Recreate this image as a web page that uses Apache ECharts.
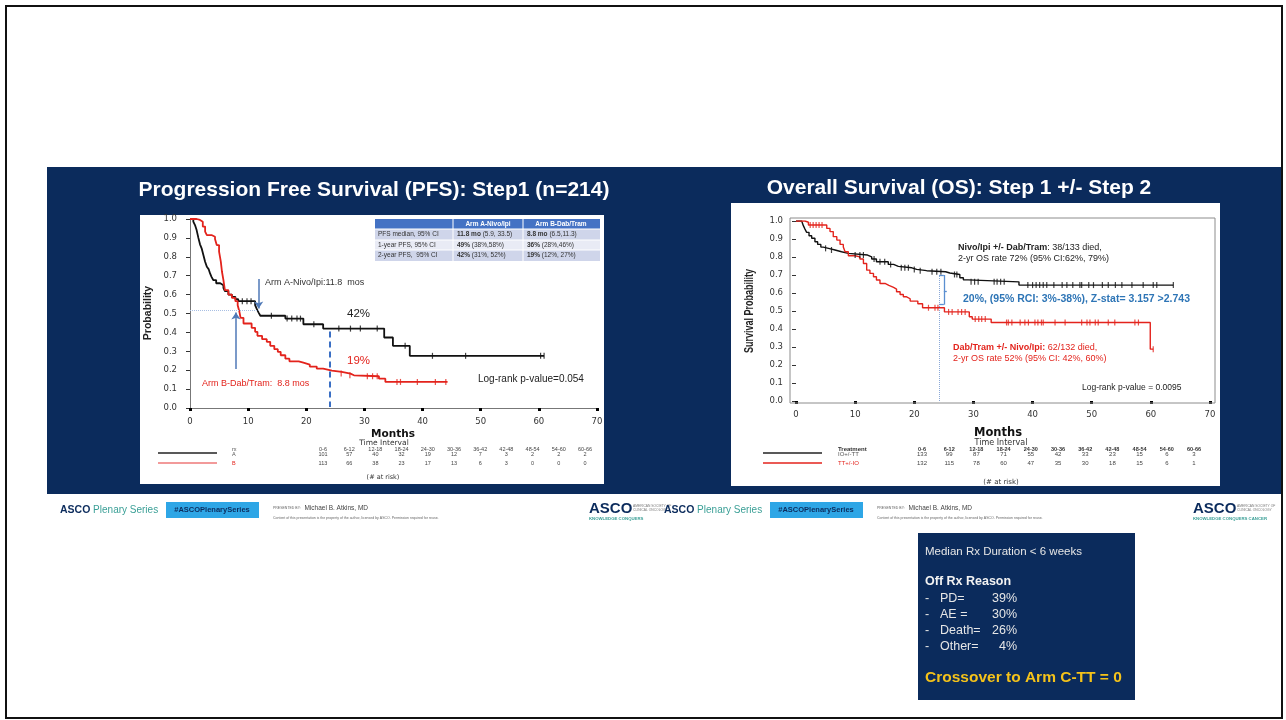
<!DOCTYPE html>
<html><head><meta charset="utf-8">
<script src="https://cdn.jsdelivr.net/npm/echarts@6/dist/echarts.min.js"></script>
<style>html,body{margin:0;padding:0;background:#fff}#c{width:1286px;height:720px}</style>
</head><body><div id="c"></div>
<script>
// ---------------- DATA ----------------
// PFS (left): [month, survival] after each event; last point = last follow-up
const pfsA = [[0,1],[0.57,0.986],[0.86,0.968],[1.15,0.94],[1.44,0.90],[1.72,0.866],[2.0,0.845],[2.3,0.81],[2.6,0.774],[2.9,0.747],[3.2,0.735],[3.45,0.712],[3.7,0.694],[4.0,0.677],[4.5,0.66],[5.2,0.65],[5.75,0.636],[6.0,0.618],[6.6,0.60],[7.2,0.588],[7.8,0.576],[8.3,0.565],[11.2,0.544],[11.5,0.523],[11.8,0.505],[12.1,0.488],[16.4,0.473],[19.5,0.443],[22.9,0.42],[33.4,0.373],[34.9,0.329],[37.8,0.276],[60.9,0.276]];
const pfsB = [[0,1],[1.15,0.995],[1.72,0.986],[2.2,0.96],[2.6,0.933],[2.9,0.915],[3.7,0.906],[4.3,0.894],[4.6,0.862],[5.0,0.827],[5.3,0.774],[5.5,0.721],[5.75,0.677],[6.0,0.624],[6.6,0.60],[7.2,0.583],[7.8,0.565],[8.2,0.544],[8.5,0.509],[8.7,0.477],[9.2,0.447],[10.6,0.424],[11.2,0.403],[11.6,0.382],[12.4,0.364],[13.2,0.35],[13.8,0.329],[14.5,0.311],[15.1,0.297],[15.6,0.279],[16.4,0.261],[17.1,0.247],[18.7,0.24],[19.5,0.23],[20.6,0.219],[21.8,0.208],[22.9,0.198],[24.4,0.191],[26.1,0.182],[27.6,0.173],[28.2,0.168],[32.5,0.155],[33.6,0.138],[44.3,0.138]];
const pfsACens = [[9.0,0.565],[9.8,0.565],[10.5,0.565],[14.0,0.488],[16.7,0.473],[17.5,0.473],[18.4,0.473],[19.0,0.473],[21.3,0.443],[25.6,0.42],[27.6,0.42],[29.3,0.42],[32.2,0.42],[37.0,0.329],[41.7,0.276],[47.4,0.276],[60.3,0.276],[60.9,0.276]];
const pfsBCens = [[26.0,0.182],[27.5,0.173],[30.5,0.168],[31.4,0.168],[32.2,0.168],[35.6,0.138],[36.2,0.138],[39.1,0.138],[42.2,0.138],[44.0,0.138]];

// OS (right)
const osIO = [[0,1],[0.96,0.993],[1.24,0.974],[1.52,0.955],[1.8,0.937],[2.2,0.918],[2.65,0.904],[3.2,0.885],[3.66,0.87],[4.2,0.855],[4.6,0.848],[5.5,0.839],[6.6,0.829],[7.7,0.82],[8.85,0.811],[12.1,0.801],[12.8,0.789],[13.6,0.774],[15.6,0.759],[16.5,0.748],[17.3,0.74],[19.6,0.731],[20.4,0.724],[22.1,0.718],[25.3,0.711],[26.0,0.703],[27.7,0.685],[28.3,0.673],[29.1,0.662],[37.7,0.644],[63.8,0.644]];
const osTT = [[0,1],[1.52,0.993],[2.1,0.978],[5.2,0.959],[5.75,0.941],[6.3,0.913],[6.9,0.894],[7.45,0.87],[8.0,0.855],[8.3,0.829],[8.85,0.807],[10.0,0.801],[10.8,0.789],[11.4,0.764],[11.95,0.727],[12.5,0.709],[13.1,0.69],[13.6,0.672],[14.2,0.653],[15.05,0.642],[15.7,0.631],[16.5,0.622],[17.0,0.607],[17.6,0.592],[18.15,0.579],[18.7,0.568],[19.3,0.555],[20.6,0.54],[21.4,0.518],[25.1,0.495],[29.3,0.468],[29.8,0.455],[33.0,0.436],[59.9,0.288],[60.4,0.288]];
const osIOCens = [[5.0,0.848],[6.0,0.839],[10.0,0.811],[10.8,0.811],[11.4,0.811],[13.2,0.789],[14.2,0.774],[15.0,0.774],[16.0,0.759],[17.8,0.74],[18.4,0.74],[19.0,0.74],[20.0,0.731],[21.0,0.724],[23.0,0.718],[23.8,0.718],[24.5,0.718],[26.8,0.703],[27.2,0.703],[29.6,0.662],[30.2,0.662],[30.8,0.662],[33.5,0.662],[34.0,0.662],[34.6,0.662],[35.2,0.662],[39.2,0.644],[40.0,0.644],[40.6,0.644],[41.2,0.644],[41.8,0.644],[42.4,0.644],[43.6,0.644],[45.0,0.644],[45.8,0.644],[46.8,0.644],[48.0,0.644],[48.3,0.644],[49.5,0.644],[50.3,0.644],[51.8,0.644],[52.8,0.644],[54.0,0.644],[55.1,0.644],[56.8,0.644],[58.7,0.644],[60.4,0.644],[61.0,0.644],[63.8,0.644]];
const osTTCens = [[2.4,0.978],[2.9,0.978],[3.4,0.978],[3.9,0.978],[4.4,0.978],[22.4,0.518],[23.5,0.518],[24.0,0.518],[25.8,0.495],[26.4,0.495],[27.4,0.495],[28.0,0.495],[28.6,0.495],[30.3,0.455],[30.9,0.455],[31.4,0.455],[32.0,0.455],[35.6,0.436],[35.9,0.436],[36.5,0.436],[37.9,0.436],[38.7,0.436],[39.3,0.436],[40.4,0.436],[40.9,0.436],[41.5,0.436],[41.8,0.436],[43.8,0.436],[45.5,0.436],[48.3,0.436],[49.2,0.436],[49.7,0.436],[50.6,0.436],[51.1,0.436],[52.8,0.436],[53.9,0.436],[57.3,0.436],[57.9,0.436],[60.4,0.288]];

// risk tables
const intervals = ['0-6','6-12','12-18','18-24','24-30','30-36','36-42','42-48','48-54','54-60','60-66'];
const riskPfsA = [101,57,40,32,19,12,7,3,2,2,2];
const riskPfsB = [113,66,38,23,17,13,6,3,0,0,0];
const riskOsIO = [133,99,87,71,55,42,33,23,15,6,3];
const riskOsTT = [132,115,78,60,47,35,30,18,15,6,1];

// inset table
const insetHeader = ['', 'Arm A-Nivo/Ipi', 'Arm B-Dab/Tram'];
const insetRows = [
  ['PFS median, 95% CI', '11.8 mo', ' (5.9, 33.5)', '8.8 mo', ' (6.5,11.3)'],
  ['1-year PFS, 95% CI', '49%', ' (38%,58%)', '36%', ' (28%,46%)'],
  ['2-year PFS,  95% CI', '42%', ' (31%, 52%)', '19%', ' (12%, 27%)']
];
const offRx = [['PD=', '39%'], ['AE =', '30%'], ['Death=', '26%'], ['Other=', '4%']];

// ---------------- STYLE / HELPERS ----------------
const F = "'Liberation Sans', Arial, sans-serif";
const NAVY = '#0b2b5c';
const RED = '#e3231c';
function txt(x, y, text, o) {
  o = o || {};
  const st = {
    text: text, x: 0, y: 0,
    fill: o.color || '#222',
    fontSize: o.size || 10, fontWeight: o.weight || 'normal', fontFamily: o.family || F,
    textAlign: o.align || 'left', textVerticalAlign: o.va || 'middle',
    align: o.align || 'left', verticalAlign: o.va || 'middle'
  };
  if (o.rich) st.rich = o.rich;
  const el = { type: 'text', x: x, y: y, rotation: o.rot || 0, z: 60, silent: true, style: st };
  if (o.sx) el.scaleX = o.sx;
  return el;
}
function rect(x, y, w, h, fill, z, stroke, lw) {
  return { type: 'rect', z: z == null ? -10 : z, silent: true, shape: { x: x, y: y, width: w, height: h },
    style: { fill: fill, stroke: stroke || null, lineWidth: lw || 0 } };
}
function line(x1, y1, x2, y2, color, w, z) {
  return { type: 'line', z: z == null ? 60 : z, silent: true, shape: { x1: x1, y1: y1, x2: x2, y2: y2 },
    style: { stroke: color, lineWidth: w } };
}
function boldRich(size, color) {
  return { b: { fontWeight: 'bold', fontSize: size, fontFamily: F, fill: color, color: color },
           n: { fontWeight: 'normal', fontSize: size, fontFamily: F, fill: color, color: color } };
}

const G = [];
// slide frame & navy band
G.push(rect(0, 0, 1286, 720, '#ffffff', -30));
G.push(rect(47, 167, 1236, 327, NAVY, -20));
G.push({ type: 'rect', z: 80, silent: true, shape: { x: 6, y: 6, width: 1276, height: 712 }, style: { fill: 'none', stroke: '#111', lineWidth: 2 } });
// white chart boxes
G.push(rect(140, 215, 464, 269, '#ffffff', -15));
G.push(rect(731, 203, 489, 283, '#ffffff', -15));
// titles
G.push(txt(374, 190, 'Progression Free Survival (PFS): Step1 (n=214)', { color: '#fff', size: 21, weight: 'bold', align: 'center' }));
G.push(txt(959, 188, 'Overall Survival (OS): Step 1 +/- Step 2', { color: '#fff', size: 21, weight: 'bold', align: 'center' }));

// ---- left inset table ----
const tY = [219, 229, 240, 250, 261];
G.push(rect(375, 219, 225, 10, '#4472c4', 40));
['#cfd5ea', '#e9ebf5', '#cfd5ea'].forEach(function (c, i) { G.push(rect(375, tY[i + 1], 225, tY[i + 2] - tY[i + 1], c, 40)); });
[453, 523].forEach(function (x) { G.push(line(x, 219, x, 261, '#ffffff', 1, 41)); });
[229, 240, 250].forEach(function (y) { G.push(line(375, y, 600, y, '#ffffff', 1, 41)); });
G.push(txt(488, 224, insetHeader[1], { color: '#fff', size: 6.5, weight: 'bold', align: 'center' }));
G.push(txt(561, 224, insetHeader[2], { color: '#fff', size: 6.5, weight: 'bold', align: 'center' }));
insetRows.forEach(function (r, i) {
  const yc = (tY[i + 1] + tY[i + 2]) / 2;
  G.push(txt(378, yc, r[0], { color: '#333', size: 6.5 }));
  G.push(txt(457, yc, '{b|' + r[1] + '}{n|' + r[2] + '}', { color: '#333', size: 6.5, rich: boldRich(6.5, '#333') }));
  G.push(txt(527, yc, '{b|' + r[3] + '}{n|' + r[4] + '}', { color: '#333', size: 6.5, rich: boldRich(6.5, '#333') }));
});

// ---- left annotations ----
G.push(txt(265, 283, 'Arm A-Nivo/Ipi:11.8  mos', { color: '#333', size: 9 }));
G.push(txt(347, 314, '42%', { color: '#222', size: 11.5 }));
G.push(txt(347, 361, '19%', { color: RED, size: 11.5 }));
G.push(txt(202, 384, 'Arm B-Dab/Tram:  8.8 mos', { color: RED, size: 9 }));
G.push(txt(478, 379, 'Log-rank p-value=0.054', { color: '#222', size: 10 }));
G.push(txt(148, 313, 'Probability', { color: '#222', size: 10.5, weight: 'bold', align: 'center', rot: Math.PI / 2 }));
G.push(txt(393, 434, 'Months', { color: '#111', size: 10.5, weight: 'bold', align: 'center', family: "'DejaVu Sans', sans-serif" }));
G.push(txt(384, 443, 'Time Interval', { color: '#333', size: 7.5, align: 'center', family: "'DejaVu Sans', sans-serif" }));
G.push(line(158, 453, 217, 453, '#222', 1.5));
G.push(line(158, 463, 217, 463, '#f29a9a', 2));
G.push(txt(232, 449, 'rx', { color: '#555', size: 5.5 }));
G.push(txt(232, 454, 'A', { color: '#555', size: 5.5 }));
G.push(txt(232, 463, 'B', { color: RED, size: 5.5 }));
intervals.forEach(function (lab, i) {
  const x = 323 + i * 26.2;
  G.push(txt(x, 449, lab, { color: '#444', size: 5.5, align: 'center' }));
  G.push(txt(x, 454, String(riskPfsA[i]), { color: '#444', size: 5.5, align: 'center' }));
  G.push(txt(x, 463, String(riskPfsB[i]), { color: '#444', size: 5.5, align: 'center' }));
});
G.push(txt(383, 477, '(# at risk)', { color: '#333', size: 6.5, align: 'center', family: "'DejaVu Sans', sans-serif" }));

// ---- right annotations ----
G.push({ type: 'rect', z: 5, silent: true, shape: { x: 790, y: 218, width: 425, height: 185 }, style: { fill: 'none', stroke: '#8c8c8c', lineWidth: 1 } });
G.push(txt(750, 311, 'Survival Probability', { color: '#222', size: 12.5, weight: 'bold', align: 'center', rot: Math.PI / 2, sx: 0.72, family: "'Liberation Sans Narrow', 'Liberation Sans', sans-serif" }));
G.push(txt(958, 248, '{b|Nivo/Ipi +/- Dab/Tram}{n|: 38/133 died,}', { size: 9, rich: boldRich(9, '#222') }));
G.push(txt(958, 259, '2-yr OS rate 72% (95% CI:62%, 79%)', { color: '#222', size: 9 }));
G.push(txt(963, 299, '20%, (95% RCI: 3%-38%), Z-stat= 3.157 >2.743', { color: '#2e75b6', size: 10.5, weight: 'bold' }));
G.push(txt(953, 348, '{b|Dab/Tram +/- Nivo/Ipi:}{n| 62/132 died,}', { size: 9, rich: boldRich(9, RED) }));
G.push(txt(953, 359, '2-yr OS rate 52% (95% CI: 42%, 60%)', { color: RED, size: 9 }));
G.push(txt(1082, 388, 'Log-rank p-value = 0.0095', { color: '#222', size: 8.5 }));
G.push(txt(998, 433, 'Months', { color: '#111', size: 11.5, weight: 'bold', align: 'center', family: "'DejaVu Sans', sans-serif" }));
G.push(txt(1001, 443, 'Time Interval', { color: '#333', size: 8, align: 'center', family: "'DejaVu Sans', sans-serif" }));
G.push(line(763, 453, 822, 453, '#222', 1.5));
G.push(line(763, 463, 822, 463, RED, 1.5));
G.push(txt(838, 449, 'Treatment', { color: '#333', size: 6, weight: 'bold' }));
G.push(txt(838, 454, 'IO+/-TT', { color: '#555', size: 6 }));
G.push(txt(838, 463, 'TT+/-IO', { color: RED, size: 6 }));
intervals.forEach(function (lab, i) {
  const x = 922 + i * 27.2;
  G.push(txt(x, 449, lab, { color: '#333', size: 5.5, weight: 'bold', align: 'center' }));
  G.push(txt(x, 454, String(riskOsIO[i]), { color: '#444', size: 6, align: 'center' }));
  G.push(txt(x, 463, String(riskOsTT[i]), { color: '#444', size: 6, align: 'center' }));
});
G.push(txt(1001, 482, '(# at risk)', { color: '#333', size: 7, align: 'center', family: "'DejaVu Sans', sans-serif" }));

// ---- footers ----
function footer(dx, full) {
  G.push(txt(60 + dx, 510, '{b|ASCO}{n| Plenary Series}', { size: 10, rich: {
    b: { fontWeight: 'bold', fontSize: 10.5, fontFamily: F, fill: NAVY },
    n: { fontWeight: 'normal', fontSize: 10, fontFamily: F, fill: '#3a9f96' } } }));
  G.push(rect(166 + dx, 502, 93, 16, '#2ea6e6', 5));
  G.push(txt(212 + dx, 510, '#ASCOPlenarySeries', { color: NAVY, size: 7.5, weight: 'bold', align: 'center' }));
  G.push(txt(273 + dx, 508, '{s|PRESENTED BY:}{n|  Michael B. Atkins, MD}', { size: 6.5, rich: {
    s: { fontSize: 3.5, fontFamily: F, fill: '#666' }, n: { fontSize: 6.5, fontFamily: F, fill: '#444' } } }));
  G.push(txt(273 + dx, 518, 'Content of this presentation is the property of the author, licensed by ASCO. Permission required for reuse.', { color: '#666', size: 3.5 }));
  G.push(txt(589 + dx, 509, 'ASCO', { color: NAVY, size: 15, weight: 'bold' }));
  G.push(txt(633 + dx, 506, 'AMERICAN SOCIETY OF', { color: '#777', size: 3.3 }));
  G.push(txt(633 + dx, 510, 'CLINICAL ONCOLOGY', { color: '#777', size: 3.3 }));
  G.push(txt(589 + dx, 519, full ? 'KNOWLEDGE CONQUERS CANCER' : 'KNOWLEDGE CONQUERS', { color: '#3a9f96', size: 4.3, weight: 'bold' }));
}
footer(0, false);
G.push(rect(660, 496, 626, 30, '#ffffff', 1));
footer(604, true);

// ---- bottom info box ----
G.push(rect(918, 533, 217, 167, NAVY, -10));
G.push(txt(925, 552, 'Median Rx Duration < 6 weeks', { color: '#e6e6e6', size: 11.5 }));
G.push(txt(925, 582, 'Off Rx Reason', { color: '#f2f2f2', size: 12.5, weight: 'bold' }));
offRx.forEach(function (r, i) {
  const y = 599 + i * 15.7;
  G.push(txt(925, y, '-', { color: '#e6e6e6', size: 12.5 }));
  G.push(txt(940, y, r[0], { color: '#e6e6e6', size: 12.5 }));
  G.push(txt(1017, y, r[1], { color: '#e6e6e6', size: 12.5, align: 'right' }));
});
G.push(txt(925, 678, 'Crossover to Arm C-TT = 0', { color: '#f4c21a', size: 15.5, weight: 'bold' }));

// ---------------- CHART ----------------
const tickFont = { fontSize: 8.5, color: '#333', fontFamily: "'DejaVu Sans', sans-serif" };
function xAx(gi, offset, margin) {
  return { type: 'value', gridIndex: gi, min: 0, max: 70, interval: 10, offset: offset,
    axisLine: { show: gi === 0, lineStyle: { color: '#777', width: 1 } },
    axisTick: { show: true, length: 3, lineStyle: { color: '#000', width: 3 } },
    axisLabel: Object.assign({ margin: margin }, tickFont), splitLine: { show: false } };
}
function yAx(gi, offset, margin, tl) {
  return { type: 'value', gridIndex: gi, min: 0, max: 1, interval: 0.1, offset: offset,
    axisLine: { show: gi === 0, lineStyle: { color: '#777', width: 1 } },
    axisTick: { show: true, length: tl, lineStyle: { color: '#333', width: 1 } },
    axisLabel: Object.assign({ margin: margin, formatter: function (v) { return v.toFixed(1); } }, tickFont),
    splitLine: { show: false } };
}
const ml = function (a, b, color, w, type, sym) {
  return [{ coord: a, symbol: 'none', lineStyle: { color: color, width: w, type: type } },
          { coord: b, symbol: sym || 'none', lineStyle: { color: color, width: w, type: type } }];
};
const censSym = { type: 'scatter', symbol: 'rect', symbolSize: [1.2, 6], silent: true, z: 4 };

const option = {
  animation: false,
  graphic: { elements: G },
  grid: [
    { left: 190, top: 219, width: 407, height: 189 },
    { left: 796, top: 221, width: 414, height: 180 }
  ],
  xAxis: [xAx(0, 4, 5), xAx(1, 2, 7)],
  yAxis: [yAx(0, 4, 9, 4), yAx(1, 6, 7, 4)],
  series: [
    { type: 'line', xAxisIndex: 0, yAxisIndex: 0, data: pfsA, step: 'end', symbol: 'none', lineStyle: { color: '#111', width: 1.8 }, z: 3,
      markLine: { silent: true, symbolSize: 7, label: { show: false }, animation: false, data: [
        ml([0, 0.515], [11.8, 0.515], '#a8bfe3', 1, 'dotted'),
        ml([24.1, 0.405], [24.1, 0.005], '#3a6fc4', 2, [6, 4]),
        ml([11.8, 0.683], [11.8, 0.527], '#4f79b7', 1.5, 'solid', 'arrow'),
        ml([7.9, 0.206], [7.9, 0.505], '#4f79b7', 1.5, 'solid', 'arrow')
      ] } },
    { type: 'line', xAxisIndex: 0, yAxisIndex: 0, data: pfsB, step: 'end', symbol: 'none', lineStyle: { color: RED, width: 1.8 }, z: 3 },
    Object.assign({ xAxisIndex: 0, yAxisIndex: 0, data: pfsACens, itemStyle: { color: '#111' } }, censSym),
    Object.assign({ xAxisIndex: 0, yAxisIndex: 0, data: pfsBCens, itemStyle: { color: RED } }, censSym),
    { type: 'line', xAxisIndex: 1, yAxisIndex: 1, data: osIO, step: 'end', symbol: 'none', lineStyle: { color: '#111', width: 1.4 }, z: 3,
      markLine: { silent: true, symbolSize: 6, label: { show: false }, animation: false, data: [
        ml([24.2, 0.0], [24.2, 0.70], '#8aa8d8', 1, 'dotted'),
        ml([25.0, 0.70], [25.0, 0.535], '#5b8fd0', 1.3, 'solid'),
        ml([24.2, 0.70], [25.0, 0.70], '#5b8fd0', 1.3, 'solid'),
        ml([24.2, 0.535], [25.0, 0.535], '#5b8fd0', 1.3, 'solid'),
        ml([25.0, 0.61], [25.5, 0.61], '#5b8fd0', 1.3, 'solid')
      ] } },
    { type: 'line', xAxisIndex: 1, yAxisIndex: 1, data: osTT, step: 'end', symbol: 'none', lineStyle: { color: RED, width: 1.4 }, z: 3 },
    Object.assign({ xAxisIndex: 1, yAxisIndex: 1, data: osIOCens, itemStyle: { color: '#111' } }, censSym),
    Object.assign({ xAxisIndex: 1, yAxisIndex: 1, data: osTTCens, itemStyle: { color: RED } }, censSym)
  ]
};
const chart = echarts.init(document.getElementById('c'), null, { renderer: 'canvas' });
chart.setOption(option);
</script>
</body></html>
